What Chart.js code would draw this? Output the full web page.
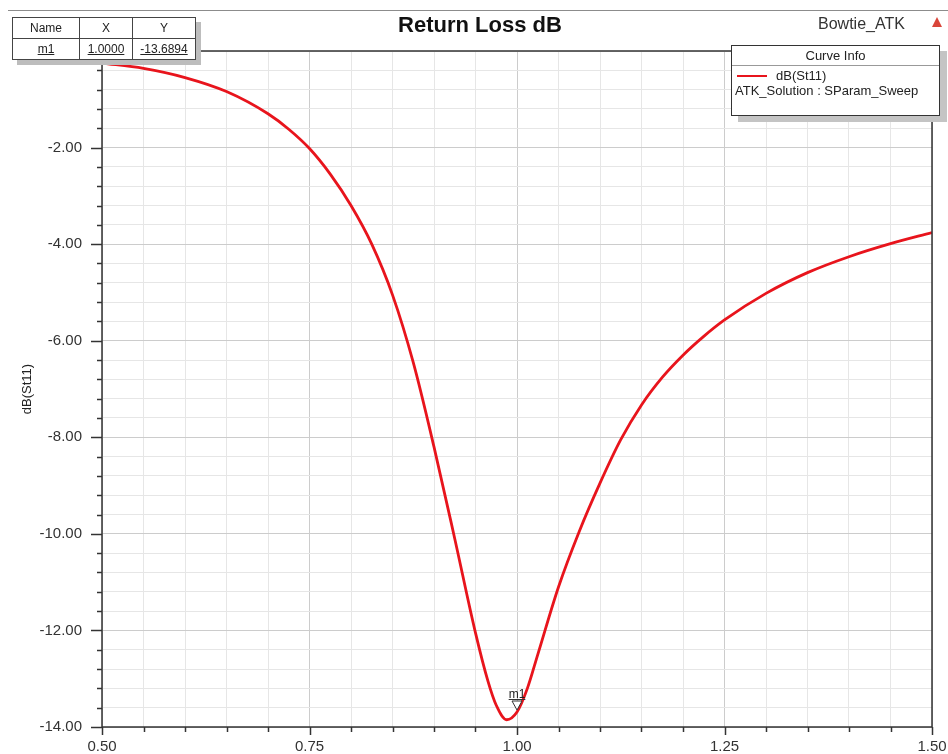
<!DOCTYPE html>
<html>
<head>
<meta charset="utf-8">
<script src="https://cdn.jsdelivr.net/npm/chart.js@4/dist/chart.umd.min.js"></script>
<style>
  html, body { margin: 0; padding: 0; background: #fff; }
  #wrap { position: relative; width: 948px; height: 754px; font-family: "Liberation Sans", Arial, sans-serif; color: #222; overflow: hidden; }
  #c { position: absolute; left: 0; top: 0; }
  .topline { position: absolute; left: 8px; top: 10px; width: 940px; height: 0; border-top: 1.5px solid #8c8c8c; }
  .title { position: absolute; left: 330px; width: 300px; top: 12px; text-align: center; font-size: 22px; font-weight: bold; color: #111; }
  .proj { position: absolute; left: 818px; top: 15px; font-size: 16px; color: #333; }
  .icon { position: absolute; left: 932px; top: 17px; width: 0; height: 0; border-left: 5px solid transparent; border-right: 5px solid transparent; border-bottom: 10px solid #d9453a; }
  #mtab { position: absolute; left: 12px; top: 17px; border-collapse: collapse; background: #fff; border: 1.5px solid #222; box-shadow: 5px 5px 0 #bdbdbd; font-size: 12px; color: #222; }
  #mtab td { border: 1px solid #444; text-align: center; padding: 0; height: 20px; }
  #mtab tr.val td { text-decoration: underline; }
  #cinfo { position: absolute; left: 731px; top: 45px; width: 207px; height: 69px; background: #fff; border: 1.5px solid #333; box-shadow: 7px 6px 0 #c4c4c4; font-size: 13px; color: #222; }
  #cinfo .hd { text-align: center; height: 19px; line-height: 19px; border-bottom: 1px solid #999; }
  #cinfo .row { position: relative; height: 15px; line-height: 15px; }
  #cinfo .sw { position: absolute; left: 5px; top: 7px; width: 30px; height: 0; border-top: 2px solid #e8141c; }
</style>
</head>
<body>
<div id="wrap">
  <canvas id="c" width="948" height="754"></canvas>
  <div class="topline"></div>
  <div class="title" id="title"></div>
  <div class="proj">Bowtie_ATK</div>
  <div class="icon"></div>
  <table id="mtab">
    <tr><td style="width:66px">Name</td><td style="width:52px">X</td><td style="width:62px">Y</td></tr>
    <tr class="val"><td id="mName"></td><td id="mX"></td><td id="mY"></td></tr>
  </table>
  <div id="cinfo">
    <div class="hd">Curve Info</div>
    <div class="row" style="margin-top:2px"><span class="sw"></span><span id="serName" style="position:absolute;left:44px"></span></div>
    <div class="row" style="padding-left:3px" id="solName"></div>
  </div>
</div>
<script>
// ---- data ----
const freqGHz = [0.50, 0.55, 0.60, 0.65, 0.70, 0.725, 0.75, 0.775, 0.80, 0.825, 0.85, 0.875, 0.90, 0.925, 0.95, 0.965, 0.975, 0.9875, 1.00, 1.0125, 1.025, 1.05, 1.075, 1.10, 1.125, 1.15, 1.175, 1.20, 1.225, 1.25, 1.30, 1.35, 1.40, 1.45, 1.50];
const s11dB   = [-0.25, -0.36, -0.55, -0.84, -1.30, -1.62, -2.02, -2.55, -3.20, -4.00, -5.05, -6.45, -8.20, -10.10, -12.05, -13.05, -13.55, -13.85, -13.69, -13.20, -12.50, -11.10, -9.95, -8.95, -8.05, -7.33, -6.76, -6.30, -5.91, -5.57, -5.02, -4.59, -4.26, -3.99, -3.76];
const xMajorTicks = [0.50, 0.75, 1.00, 1.25, 1.50];
const yMajorTicks = [-2, -4, -6, -8, -10, -12, -14];
const markerNames = ['m1'];
const markerX = [1.0000];
const markerY = [-13.6894];
const chartTitle = 'Return Loss dB';
const seriesName = 'dB(St11)';
const solutionName = 'ATK_Solution : SParam_Sweep';

document.getElementById('title').textContent = chartTitle;
document.getElementById('mName').textContent = markerNames[0];
document.getElementById('mX').textContent = markerX[0].toFixed(4);
document.getElementById('mY').textContent = markerY[0].toFixed(4);
document.getElementById('serName').textContent = seriesName;
document.getElementById('solName').textContent = solutionName;

const isMajor = (v, list) => list.some(t => Math.abs(t - v) < 1e-6);
const FONT = "'Liberation Sans', Arial, sans-serif";

const frame = {
  id: 'frame',
  afterDatasetsDraw(chart) {
    const { ctx, chartArea: a, scales: { x, y } } = chart;
    ctx.save();
    // markers
    ctx.strokeStyle = '#333'; ctx.lineWidth = 1;
    markerNames.forEach((n, i) => {
      const px = x.getPixelForValue(markerX[i]);
      const py = y.getPixelForValue(markerY[i]);
      ctx.beginPath();
      ctx.moveTo(px - 5, py - 11); ctx.lineTo(px + 5, py - 11); ctx.lineTo(px, py - 2); ctx.closePath();
      ctx.fillStyle = '#fff'; ctx.fill(); ctx.stroke();
      ctx.fillStyle = '#222';
      ctx.font = '12px ' + FONT; ctx.textAlign = 'center'; ctx.textBaseline = 'alphabetic';
      ctx.fillText(n, px, py - 14);
      const w = ctx.measureText(n).width;
      ctx.beginPath(); ctx.moveTo(px - w / 2, py - 12.5); ctx.lineTo(px + w / 2, py - 12.5); ctx.stroke();
    });
    // frame
    ctx.strokeStyle = '#333'; ctx.lineWidth = 1.5;
    ctx.strokeRect(a.left, a.top, a.right - a.left, a.bottom - a.top);
    // outer tick marks
    y.ticks.forEach(t => {
      const py = Math.round(y.getPixelForValue(t.value)) + 0.5;
      const len = isMajor(t.value, yMajorTicks) ? 11 : 5;
      ctx.beginPath(); ctx.moveTo(a.left - len, py); ctx.lineTo(a.left, py); ctx.stroke();
    });
    x.ticks.forEach(t => {
      const px = Math.round(x.getPixelForValue(t.value)) + 0.5;
      const len = isMajor(t.value, xMajorTicks) ? 8 : 5;
      ctx.beginPath(); ctx.moveTo(px, a.bottom); ctx.lineTo(px, a.bottom + len); ctx.stroke();
    });
    ctx.restore();
  }
};

new Chart(document.getElementById('c'), {
  type: 'line',
  data: {
    datasets: [{
      label: seriesName,
      data: freqGHz.map((f, i) => ({ x: f, y: s11dB[i] })),
      borderColor: '#e8141c',
      borderWidth: 2.8,
      pointRadius: 0,
      cubicInterpolationMode: 'monotone',
      fill: false
    }]
  },
  options: {
    responsive: false,
    animation: false,
    layout: { padding: { left: 0, right: 0, top: 51, bottom: 0 } },
    plugins: {
      legend: { display: false },
      tooltip: { enabled: false },
      title: { display: false }
    },
    scales: {
      x: {
        type: 'linear', min: 0.5, max: 1.5,
        ticks: {
          stepSize: 0.05, autoSkip: false, maxRotation: 0, padding: 11,
          color: '#333', font: { family: FONT, size: 15 },
          callback: v => isMajor(v, xMajorTicks) ? Number(v).toFixed(2) : ''
        },
        grid: {
          drawTicks: false, lineWidth: 1,
          color: c => isMajor(c.tick.value, xMajorTicks) ? '#cccccc' : '#e6e6e6'
        },
        border: { display: false },
        afterFit: s => { s.height = 27; s.paddingRight = 16; s.paddingLeft = 0; }
      },
      y: {
        type: 'linear', min: -14, max: 0,
        ticks: {
          stepSize: 0.4, autoSkip: false, padding: 20,
          color: '#333', font: { family: FONT, size: 15 },
          callback: v => isMajor(v, yMajorTicks) ? Number(v).toFixed(2) : ''
        },
        grid: {
          drawTicks: false, lineWidth: 1,
          color: c => isMajor(c.tick.value, yMajorTicks) ? '#cccccc' : '#e6e6e6'
        },
        border: { display: false },
        title: {
          display: true, text: seriesName, color: '#222',
          font: { family: FONT, size: 13 },
          padding: { top: 20, bottom: 0 }
        },
        afterFit: s => { s.width = 102; s.paddingTop = 0; s.paddingBottom = 0; }
      }
    }
  },
  plugins: [frame]
});
</script>
</body>
</html>
